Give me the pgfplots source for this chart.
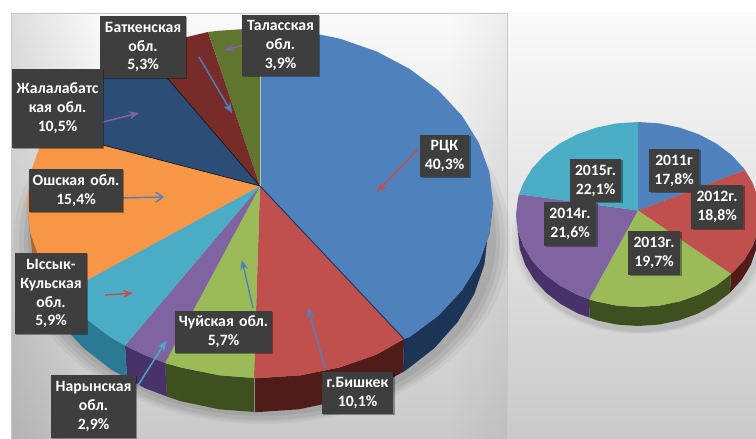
\documentclass[border=0pt]{standalone}
\usepackage{pgfplots}
\pgfplotsset{compat=1.18}
\usepackage{fontspec}
\setmainfont{Carlito}
\usetikzlibrary{arrows.meta,shadows,fadings}
\definecolor{cblue}{HTML}{4F81BD}
\definecolor{cred}{HTML}{C0504D}
\definecolor{cgreen}{HTML}{9BBB59}
\definecolor{cpurple}{HTML}{8064A2}
\definecolor{cteal}{HTML}{4BACC6}
\definecolor{corange}{HTML}{F79646}
\definecolor{cnavy}{HTML}{2C4D75}
\definecolor{cdred}{HTML}{772C2A}
\definecolor{cdgreen}{HTML}{5F7530}
\definecolor{wblue}{HTML}{1C3557}
\definecolor{wred}{HTML}{4F1C1A}
\definecolor{wgreen}{HTML}{3F5020}
\definecolor{wpurple}{HTML}{47326A}
\definecolor{wteal}{HTML}{2A7A93}
\definecolor{worange}{HTML}{B0672A}
\definecolor{boxc}{HTML}{3E3E3E}
\tikzset{lab/.style={fill=boxc,text=white,inner sep=0pt,align=center,anchor=center,
  font=\fontsize{15.8}{19}\bfseries\selectfont,
  drop shadow={shadow xshift=1.5pt,shadow yshift=-1.5pt,opacity=.35,fill=black}}}
\begin{document}
\begin{tikzpicture}
\useasboundingbox (0,0) rectangle (756bp,439bp);
\begin{axis}[at={(0,0)},anchor=south west,width=756bp,height=439bp,scale only axis,
  xmin=0,xmax=756,ymin=0,ymax=439,y dir=reverse,hide axis,clip=true]
% backgrounds
\fill[top color=black!2,bottom color=black!21,draw=none] (axis cs:11,13) rectangle (axis cs:507,439);
\fill[top color=black!2,bottom color=black!21,draw=none] (axis cs:507,13) rectangle (axis cs:756,439);
\fill[black,opacity=.11,path fading=east] (axis cs:11,14) rectangle (axis cs:100,439);
\fill[black,opacity=.05,path fading=west] (axis cs:450,14) rectangle (axis cs:507,439);
\addplot[black!22,line width=1pt] coordinates {(11,13) (507,13) (507,439)};
\addplot[black!22,line width=1pt] coordinates {(11,13) (11,439)};
% shadows
\fill[black,opacity=.04] (axis cs:262,240) ellipse [x radius=248bp,y radius=184bp];
\fill[black,opacity=.05] (axis cs:262,240) ellipse [x radius=243bp,y radius=182bp];
\fill[black,opacity=.06] (axis cs:262,240) ellipse [x radius=238bp,y radius=180bp];
\fill[black,opacity=.06] (axis cs:262,238) ellipse [x radius=234bp,y radius=178bp];
\fill[black,opacity=.03] (axis cs:640,238) ellipse [x radius=128bp,y radius=96bp];
\fill[black,opacity=.04] (axis cs:640,238) ellipse [x radius=125bp,y radius=95bp];
\fill[black,opacity=.05] (axis cs:640,238) ellipse [x radius=122bp,y radius=94bp];
% large pie: side walls
\addplot[fill=wblue,draw=none] coordinates {(493,203) (489.5,233.4) (479,262.9) (461.8,290.5) (438.5,315.5) (409.8,337) (404,339) (403,372) (406.2,370.1) (434.4,348.1) (457.3,322.5) (474.2,294.2) (484.5,264.1) (488,233)} -- cycle;
\addplot[fill=wred,draw=none] coordinates {(404,339) (376.5,354.6) (339.7,367.4) (300.5,375.3) (260,378) (254,378) (254,412) (259,412) (298.8,409.3) (337.3,401.2) (373.5,388) (403,372)} -- cycle;
\addplot[fill=wgreen,draw=none] coordinates {(254,378) (219.5,375.3) (180.3,367.4) (165,363) (167,396.5) (180.7,401.2) (219.2,409.3) (254,412)} -- cycle;
\addplot[fill=wpurple,draw=none] coordinates {(165,363) (143.5,354.6) (125,345.6) (127,378) (144.5,388) (167,396.5)} -- cycle;
\addplot[fill=wteal,draw=none] coordinates {(125,345.6) (110.2,337) (81.5,315.5) (61,294.3) (63,326) (83.6,348.1) (111.8,370.1) (127,378)} -- cycle;
\addplot[fill=worange,draw=none] coordinates {(61,294.3) (58.2,290.5) (41,262.9) (30.5,233.4) (27,203) (30,233) (33.5,264.1) (43.8,294.2) (60.7,322.5) (63,326)} -- cycle;
% large pie: top
\addplot[fill=cblue,draw=none] coordinates {(260,186) (260,28) (300.5,30.7) (339.7,38.6) (376.5,51.4) (409.8,69) (438.5,90.5) (461.8,115.5) (479,143.1) (489.5,172.6) (493,203) (489.5,233.4) (479,262.9) (461.8,290.5) (438.5,315.5) (409.8,337) (404,339)} -- cycle;
\addplot[fill=cred,draw=none] coordinates {(260,186) (404,339) (376.5,354.6) (339.7,367.4) (300.5,375.3) (260,378) (254,378)} -- cycle;
\addplot[fill=cgreen,draw=none] coordinates {(260,186) (254,378) (219.5,375.3) (180.3,367.4) (165,363)} -- cycle;
\addplot[fill=cpurple,draw=none] coordinates {(260,186) (165,363) (143.5,354.6) (125,345.6)} -- cycle;
\addplot[fill=cteal,draw=none] coordinates {(260,186) (125,345.6) (110.2,337) (81.5,315.5) (61,294.3)} -- cycle;
\addplot[fill=corange,draw=none] coordinates {(260,186) (61,294.3) (58.2,290.5) (41,262.9) (30.5,233.4) (27,203) (30.5,172.6) (41,143.1) (49,131)} -- cycle;
\addplot[fill=cnavy,draw=none] coordinates {(260,186) (49,131) (58.2,115.5) (81.5,90.5) (110.2,69) (143.5,51.4) (144,51)} -- cycle;
\addplot[fill=cdred,draw=none] coordinates {(260,186) (144,51) (180.3,38.6) (208,32)} -- cycle;
\addplot[fill=cdgreen,draw=none] coordinates {(260,186) (208,32) (219.5,30.7) (260,28)} -- cycle;
% edges
\addplot[wblue,line width=.9pt] coordinates {(260,186) (404,339)};
\addplot[black!80!cnavy,line width=.6pt] coordinates {(260,186) (49,131)};
\addplot[black!80!cnavy,line width=.6pt] coordinates {(260,186) (144,51)};
\addplot[black!25,line width=1pt] coordinates {(260,186) (260,28)};
\addplot[black!45,line width=.8pt] coordinates {(254,378) (254,412)};
% small pie: walls
\addplot[fill=wred,draw=none] coordinates {(760,214.5) (758.1,230.6) (752.6,246.1) (743.7,260.8) (731,274) (729.9,292.8) (741.9,279.5) (750.8,264.8) (756.2,249.1) (758,233)} -- cycle;
\addplot[fill=wgreen,draw=none] coordinates {(731,274) (716.4,285.4) (699,294.6) (679.7,301.4) (659.2,305.6) (638,307) (616.8,305.6) (596.3,301.4) (589,299.2) (589.5,317.5) (597,320.4) (617.2,324.6) (638,326) (658.8,324.6) (679,320.4) (698,313.5) (715.1,304.2) (729.9,292.8)} -- cycle;
\addplot[fill=wpurple,draw=none] coordinates {(589,299.2) (577,294.6) (559.6,285.4) (544.5,274) (532.3,260.8) (523.4,246.1) (517.9,230.6) (516,214.5) (518,233) (519.8,249.1) (525.2,264.8) (534.1,279.5) (546.1,292.8) (560.9,304.2) (578,313.5) (589.5,317.5)} -- cycle;
% small pie: top
\addplot[fill=cblue,draw=none] coordinates {(638,210.5) (638,122) (659.2,123.4) (679.7,127.6) (699,134.4) (716.4,143.6) (731.5,155) (743.7,168.2) (745,170)} -- cycle;
\addplot[fill=cred,draw=none] coordinates {(638,210.5) (745,170) (752.6,182.9) (758.1,198.4) (760,214.5) (758.1,230.6) (752.6,246.1) (743.7,260.8) (731,274)} -- cycle;
\addplot[fill=cgreen,draw=none] coordinates {(638,210.5) (731,274) (716.4,285.4) (699,294.6) (679.7,301.4) (659.2,305.6) (638,307) (616.8,305.6) (596.3,301.4) (589,299.2)} -- cycle;
\addplot[fill=cpurple,draw=none] coordinates {(638,210.5) (589,299.2) (577,294.6) (559.6,285.4) (544.5,274) (532.3,260.8) (523.4,246.1) (517.9,230.6) (516,214.5) (517.9,198.4) (519,194.2)} -- cycle;
\addplot[fill=cteal,draw=none] coordinates {(638,210.5) (519,194.2) (523.4,182.9) (532.3,168.2) (544.5,155) (559.6,143.6) (577,134.4) (596.3,127.6) (616.8,123.4) (638,122)} -- cycle;
% arrows
\addplot[cpurple,line width=1.4pt,-{Stealth[length=9bp,width=8bp]}] coordinates {(280,36) (225,50)};
\addplot[cblue,line width=1.4pt,-{Stealth[length=10bp,width=8bp]}] coordinates {(199,57) (232,113)};
\addplot[cpurple,line width=1.4pt,-{Stealth[length=10bp,width=8bp]}] coordinates {(95,124) (139,113)};
\addplot[cblue,line width=1.4pt,-{Straight Barb[length=7bp,width=10bp]}] coordinates {(119,198) (164,197)};
\addplot[cred,line width=1.4pt,-{Stealth[length=10bp,width=8bp]}] coordinates {(418,149) (377,192)};
\addplot[cred,line width=1.4pt,-{Stealth[length=10bp,width=8bp]}] coordinates {(105,295) (133,293)};
\addplot[cblue,line width=1.4pt,-{Stealth[length=10bp,width=8bp]}] coordinates {(253,308) (242,260)};
\addplot[cblue,line width=1.4pt,-{Stealth[length=10bp,width=8bp]}] coordinates {(325,368) (308,308)};
\addplot[cteal,line width=1.4pt,-{Stealth[length=10bp,width=8bp]}] coordinates {(137,387) (166,341)};
% labels
\node[lab,minimum width=86bp,minimum height=62bp,text width=86bp] at (axis cs:143,47) {Баткенская\\обл.\\5,3\%};
\node[lab,minimum width=77bp,minimum height=61bp,text width=77bp] at (axis cs:280.5,45.5) {Таласская\\обл.\\3,9\%};
\node[lab,minimum width=91bp,minimum height=79bp,text width=91bp] at (axis cs:57.5,108.5) {Жалалабатс\\кая обл.\\10,5\%};
\node[lab,minimum width=94bp,minimum height=43bp,text width=94bp] at (axis cs:76,190.5) {Ошская обл.\\15,4\%};
\node[lab,minimum width=49bp,minimum height=42bp,text width=49bp] at (axis cs:444.5,156) {РЦК\\40,3\%};
\node[lab,minimum width=72bp,minimum height=81bp,text width=72bp] at (axis cs:51,293.5) {Ыссык-\\Кульская\\обл.\\5,9\%};
\node[lab,minimum width=97bp,minimum height=42bp,text width=97bp] at (axis cs:223.5,332) {Чуйская обл.\\5,7\%};
\node[lab,minimum width=71bp,minimum height=42bp,text width=71bp] at (axis cs:357.5,393) {г.Бишкек\\10,1\%};
\node[lab,minimum width=85bp,minimum height=63bp,text width=85bp] at (axis cs:93.5,406.5) {Нарынская\\обл.\\2,9\%};
\node[lab,minimum width=50bp,minimum height=43bp,text width=50bp] at (axis cs:674,170.5) {2011г\\17,8\%};
\node[lab,minimum width=51bp,minimum height=43bp,text width=51bp] at (axis cs:595.5,180.5) {2015г.\\22,1\%};
\node[lab,minimum width=52bp,minimum height=44bp,text width=52bp] at (axis cs:717,207) {2012г.\\18,8\%};
\node[lab,minimum width=52bp,minimum height=44bp,text width=52bp] at (axis cs:654,253) {2013г.\\19,7\%};
\node[lab,minimum width=52bp,minimum height=44bp,text width=52bp] at (axis cs:570,224) {2014г.\\21,6\%};
\end{axis}
\end{tikzpicture}
\end{document}
